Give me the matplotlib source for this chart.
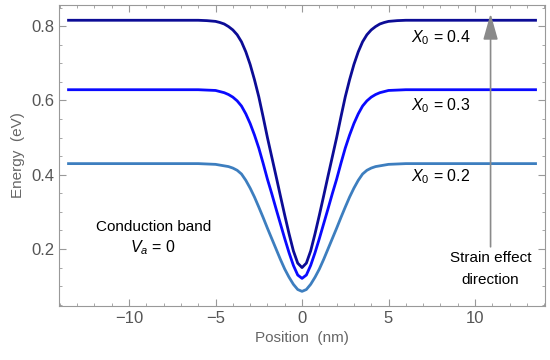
import numpy as np
import matplotlib.pyplot as plt
from matplotlib.ticker import MultipleLocator

plt.rcParams['font.family'] = ['Liberation Sans', 'DejaVu Sans']
plt.rcParams['mathtext.fontset'] = 'custom'
plt.rcParams['mathtext.it'] = 'Liberation Sans:italic'
plt.rcParams['mathtext.rm'] = 'Liberation Sans'

# position (nm)
pos = [-13.5, -7, -6, -5.5, -5, -4.75, -4.5, -4.25, -4, -3.75, -3.5, -3.25, -3, -2.75, -2.5, -2.25,
       -2, -1.75, -1.5, -1.25, -1, -0.75, -0.5, -0.25, 0,
       0.25, 0.5, 0.75, 1, 1.25, 1.5, 1.75, 2, 2.25, 2.5, 2.75, 3, 3.25, 3.5, 3.75, 4, 4.25, 4.5,
       4.75, 5, 5.5, 6, 7, 13.5]

# energy (eV) for each composition
e_x02 = [0.430, 0.430, 0.430, 0.429, 0.428, 0.426, 0.424, 0.422, 0.418, 0.412, 0.402, 0.385, 0.364,
         0.340, 0.313, 0.285, 0.256, 0.228, 0.200, 0.172, 0.146, 0.124, 0.105, 0.091, 0.086,
         0.091, 0.105, 0.124, 0.146, 0.172, 0.200, 0.228, 0.256, 0.285, 0.313, 0.340, 0.364, 0.385,
         0.402, 0.412, 0.418, 0.422, 0.424, 0.426, 0.428, 0.429, 0.430, 0.430, 0.430]
e_x03 = [0.629, 0.629, 0.629, 0.628, 0.627, 0.624, 0.621, 0.616, 0.609, 0.599, 0.585, 0.564, 0.538,
         0.507, 0.472, 0.431, 0.388, 0.349, 0.308, 0.268, 0.228, 0.190, 0.156, 0.130, 0.121,
         0.130, 0.156, 0.190, 0.228, 0.268, 0.308, 0.349, 0.388, 0.431, 0.472, 0.507, 0.538, 0.564,
         0.585, 0.599, 0.609, 0.616, 0.621, 0.624, 0.627, 0.628, 0.629, 0.629, 0.629]
e_x04 = [0.816, 0.816, 0.816, 0.815, 0.813, 0.810, 0.806, 0.799, 0.790, 0.777, 0.758, 0.731, 0.697,
         0.656, 0.610, 0.556, 0.500, 0.448, 0.396, 0.343, 0.291, 0.241, 0.195, 0.162, 0.150,
         0.162, 0.195, 0.241, 0.291, 0.343, 0.396, 0.448, 0.500, 0.556, 0.610, 0.656, 0.697, 0.731,
         0.758, 0.777, 0.790, 0.799, 0.806, 0.810, 0.813, 0.815, 0.816, 0.816, 0.816]

labels = ['$X_0$ = 0.2', '$X_0$ = 0.3', '$X_0$ = 0.4']
label_y = [0.396, 0.585, 0.770]
colors = ['#3d7ebf', '#0a0aff', '#0c0c96']

fig = plt.figure(figsize=(5.5, 3.6), dpi=100)
ax = fig.add_axes([0.1073, 0.15, 0.8837, 0.836])

for e, c in zip([e_x02, e_x03, e_x04], colors):
    ax.plot(pos, e, color=c, lw=2, solid_joinstyle='round')

for lab, ly in zip(labels, label_y):
    ax.text(8.0, ly, lab, ha='center', va='center', fontsize=11.5)

ax.text(-8.6, 0.259, 'Conduction band', ha='center', va='center', fontsize=11)
ax.text(-8.6, 0.205, '$V_a$ = 0', ha='center', va='center', fontsize=11.5)
ax.text(10.9, 0.175, 'Strain effect', ha='center', va='center', fontsize=11)
ax.text(10.9, 0.116, 'direction', ha='center', va='center', fontsize=11)

ax.annotate('', xy=(10.9, 0.834), xytext=(10.9, 0.206),
            arrowprops=dict(arrowstyle='-|>,head_length=1.6,head_width=0.45',
                            color='#8a8a8a', lw=1.2, shrinkA=0, shrinkB=0))

ax.set_xlim(-14.05, 14.05)
ax.set_ylim(0.0466, 0.857)
ax.xaxis.set_minor_locator(MultipleLocator(1))
ax.yaxis.set_minor_locator(MultipleLocator(0.05))
ax.set_xticks([-10, -5, 0, 5, 10])
ax.set_xticklabels(['\u221210', '\u22125', '0', '5', '10'])
ax.set_yticks([0.2, 0.4, 0.6, 0.8])

for s in ax.spines.values():
    s.set_color('#999999')
ax.tick_params(which='both', direction='in', top=True, right=True, color='#999999',
               labelcolor='#555555', labelsize=12)
ax.tick_params(which='major', length=5)
ax.tick_params(which='minor', length=2.5)

ax.set_xlabel('Position  (nm)', color='#666666', fontsize=11)
ax.set_ylabel('Energy  (eV)', color='#666666', fontsize=11)

plt.savefig('out.png', dpi=100)
